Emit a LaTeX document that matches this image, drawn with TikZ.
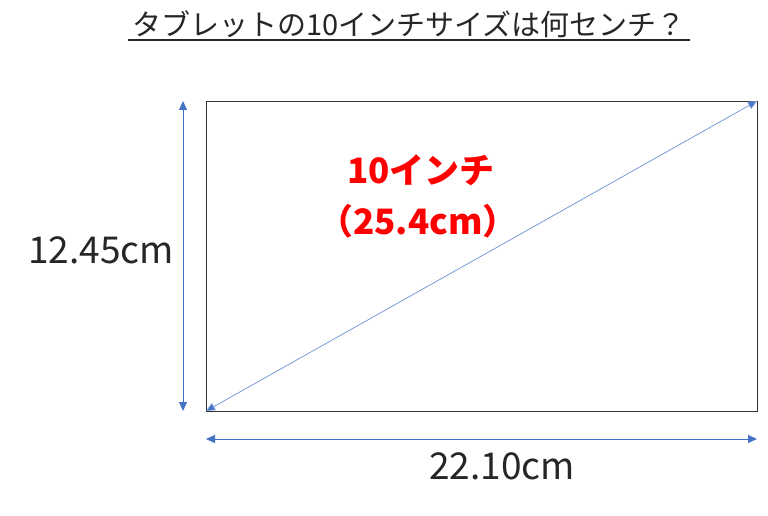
\documentclass[tikz,border=0pt]{standalone}
\usepackage{fontspec}
\newfontfamily\cjk{Noto Sans CJK JP}
\usetikzlibrary{arrows.meta,positioning,calc}
\definecolor{officeblue}{RGB}{68,114,196}
\definecolor{diagblue}{RGB}{120,155,215}
\definecolor{labelred}{RGB}{255,0,0}
\tikzset{
  dimarrow/.style={draw=officeblue, line width=0.9pt, {Triangle[length=9pt,width=8pt,fill=officeblue]}-{Triangle[length=9pt,width=8pt,fill=officeblue]}},
  diagarrow/.style={draw=diagblue, line width=0.8pt, {Triangle[length=9pt,width=8pt,fill=officeblue]}-{Triangle[length=9pt,width=8pt,fill=officeblue]}},
  dimlabel/.style={font=\cjk\fontsize{37}{40}\selectfont, inner sep=0pt, text=black!85},
  redlabel/.style={font=\cjk\bfseries\fontsize{35}{38}\selectfont, inner sep=0pt, text=labelred},
}
\begin{document}
\begin{tikzpicture}[x=1pt,y=-1pt]
\useasboundingbox (0,0) rectangle (768,516);
% screen outline
\coordinate (bl) at (206,411);
\coordinate (tr) at (757,101);
\draw[line width=0.8pt, draw=black!80] (bl) rectangle (tr);
% title
\node[font=\cjk\fontsize{29}{32}\selectfont, inner sep=0pt, text=black!85] (title) at (409,24) {タブレットの10インチサイズは何センチ？};
\draw[line width=1.2pt, black!85] (128,40) -- (690,40);
% dimensions
\coordinate (vtop) at (183,101);
\coordinate (vbot) at (183,411);
\coordinate (hleft) at (206,439);
\coordinate (hright) at (757,439);
\draw[dimarrow] (vtop) -- (vbot);
\draw[dimarrow] (hleft) -- (hright);
\draw[diagarrow] (bl) -- (tr);
\node[dimlabel] (height) at (101,250) {12.45cm};
\node[dimlabel] (width) at (502,466) {22.10cm};
% diagonal label
\node[redlabel] (inch) at (421,170) {10インチ};
\node[redlabel] (cm) at (418,221) {（25.4cm）};
\end{tikzpicture}
\end{document}
